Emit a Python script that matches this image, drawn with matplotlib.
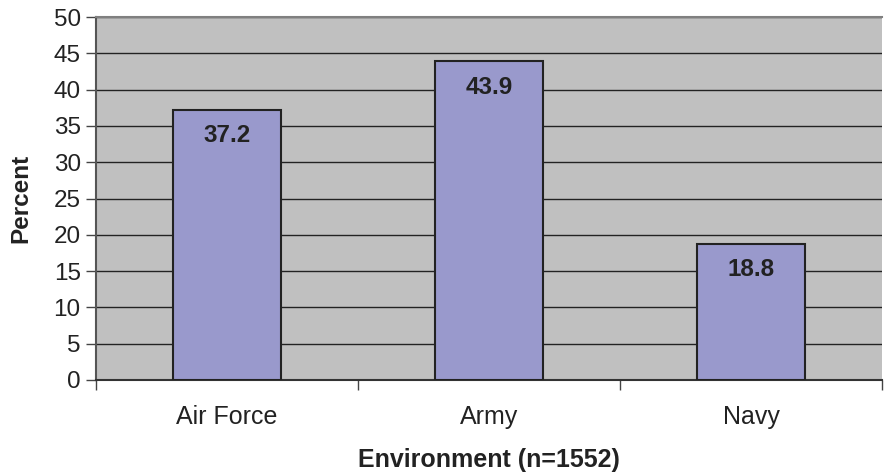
import matplotlib
matplotlib.use("Agg")
import matplotlib.pyplot as plt

categories = ["Air Force", "Army", "Navy"]
percents = [37.2, 43.9, 18.8]
y_ticks = list(range(0, 55, 5))

plt.rcParams["font.family"] = ["Liberation Sans", "DejaVu Sans"]

fig = plt.figure(figsize=(8.84, 4.74), dpi=100)
ax = fig.add_axes([96 / 884, 1 - 380 / 474, 786 / 884, 363 / 474])
ax.set_facecolor("#C0C0C0")

x = list(range(len(categories)))
ax.bar(x, percents, width=0.41, color="#9999CC", edgecolor="#222222",
       linewidth=1.5, zorder=3)

for xi, v in zip(x, percents):
    ax.text(xi, v - 2.0, f"{v:.1f}", ha="center", va="top", fontsize=17.5,
            fontweight="bold", color="#222222", zorder=4)

ax.set_xlim(-0.5, len(categories) - 0.5)
ax.set_ylim(0, 50)
ax.set_yticks(y_ticks)
ax.set_yticklabels([str(t) for t in y_ticks], fontsize=17.5, color="#222222")
ax.yaxis.grid(True, color="#222222", linewidth=1.0, zorder=1)
ax.set_axisbelow(True)

ax.set_xticks(x)
ax.set_xticklabels(categories, fontsize=18, color="#222222")
ax.tick_params(axis="x", length=0, pad=18)
ax.set_xticks([-0.5, 0.5, 1.5, 2.5], minor=True)
ax.tick_params(axis="x", which="minor", length=7, color="#444444", width=1)
ax.tick_params(axis="y", length=7, color="#444444", width=1, pad=4)

ax.spines["top"].set_color("#808080")
ax.spines["top"].set_linewidth(1.5)
ax.spines["right"].set_visible(False)
ax.spines["left"].set_color("#555555")
ax.spines["left"].set_linewidth(1.5)
ax.spines["bottom"].set_color("#333333")
ax.spines["bottom"].set_linewidth(1.5)

ax.set_ylabel("Percent", fontsize=17.5, fontweight="bold", color="#222222", labelpad=15)
ax.set_xlabel("Environment (n=1552)", fontsize=18, fontweight="bold", color="#222222", labelpad=14)

fig.savefig("out.png", dpi=100)
